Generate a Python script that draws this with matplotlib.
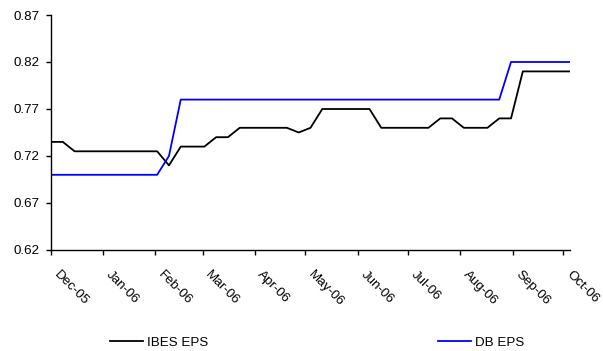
import numpy as np
import pandas as pd
import matplotlib
matplotlib.use("Agg")
import matplotlib.pyplot as plt
import matplotlib.dates as mdates
import matplotlib.transforms as mtransforms

plt.rcParams['font.family'] = ['Liberation Sans', 'DejaVu Sans']
plt.rcParams['font.size'] = 9.6

# weekly observations, first Friday of Dec 2005 onwards
dates = pd.date_range("2005-12-02", periods=45, freq="7D")

ibes_eps = [0.735, 0.735, 0.725, 0.725, 0.725, 0.725, 0.725, 0.725, 0.725, 0.725,
            0.710, 0.730, 0.730, 0.730, 0.740, 0.740, 0.750, 0.750, 0.750, 0.750,
            0.750, 0.745, 0.750, 0.770, 0.770, 0.770, 0.770, 0.770, 0.750, 0.750,
            0.750, 0.750, 0.750, 0.760, 0.760, 0.750, 0.750, 0.750, 0.760, 0.760,
            0.810, 0.810, 0.810, 0.810, 0.810]

db_eps = [0.70] * 10 + [0.72] + [0.78] * 28 + [0.82] * 6

y_ticks = [0.62, 0.67, 0.72, 0.77, 0.82, 0.87]

fig = plt.figure(figsize=(6.03, 3.51), dpi=100)
ax = fig.add_axes([51 / 603, 1 - 250 / 351, (570 - 51) / 603, 235 / 351])

ax.plot(dates, ibes_eps, color="black", lw=1.3, label="IBES EPS")
ax.plot(dates, db_eps, color="#0000ff", lw=1.3, label="DB EPS")

ax.set_ylim(0.62, 0.87)
ax.set_yticks(y_ticks)
ax.set_yticklabels([f"{v:.2f}" for v in y_ticks])
ax.set_xlim(dates[0], dates[-1])

# monthly ticks counted from the first observation day
ax.xaxis.set_major_locator(mdates.MonthLocator(bymonthday=2))
ax.xaxis.set_major_formatter(mdates.DateFormatter("%b-%y"))

for s in ["top", "right"]:
    ax.spines[s].set_visible(False)
for s in ["left", "bottom"]:
    ax.spines[s].set_linewidth(1.0)

ax.tick_params(axis="y", direction="out", length=3.5, width=1, pad=5)
ax.tick_params(axis="x", direction="out", length=3.5, width=1, pad=6)

# slanted month labels, nudged right/down from the tick
shift = mtransforms.ScaledTranslation(9 / 100, -5 / 100, fig.dpi_scale_trans)
for lab in ax.get_xticklabels():
    lab.set_rotation(-45)
    lab.set_ha("left")
    lab.set_va("top")
    lab.set_rotation_mode("anchor")
    lab.set_transform(lab.get_transform() + shift)

fig.legend(loc="center", bbox_to_anchor=(0.526, 0.023), ncol=2, frameon=False,
           handlelength=2.5, handletextpad=0.3, columnspacing=17.2,
           borderaxespad=0, borderpad=0)

fig.savefig("out.png", dpi=100)
